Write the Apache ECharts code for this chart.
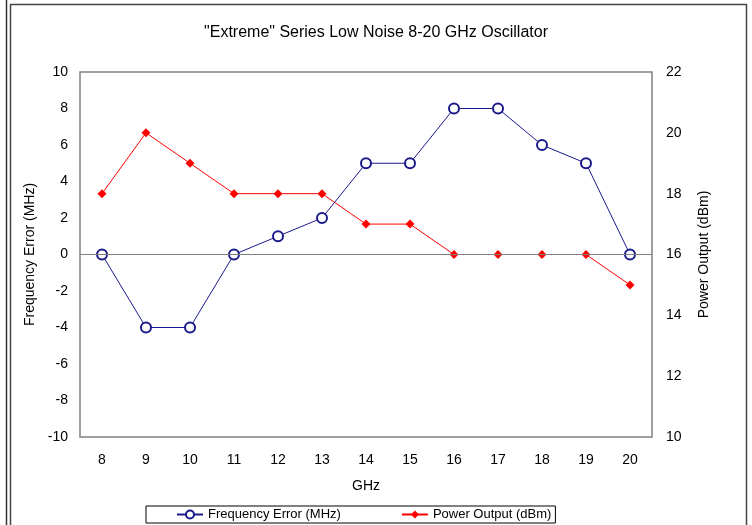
<!DOCTYPE html>
<html>
<head>
<meta charset="utf-8">
<script src="https://cdn.jsdelivr.net/npm/echarts@6/dist/echarts.min.js"></script>
<style>
  html, body { margin: 0; padding: 0; background: #fff; }
  #chart { width: 752px; height: 525px; }
</style>
</head>
<body>
<div id="chart"></div>
<script>
// GHz categories
const ghz = ['8', '9', '10', '11', '12', '13', '14', '15', '16', '17', '18', '19', '20'];
// left axis, MHz
const freqError = [0, -4, -4, 0, 1, 2, 5, 5, 8, 8, 6, 5, 0];
// right axis, dBm
const powerOut = [18, 20, 19, 18, 18, 18, 17, 17, 16, 16, 16, 16, 15];

const font = 'Liberation Sans, Arial, sans-serif';

const chart = echarts.init(document.getElementById('chart'));
chart.setOption({
  animation: false,
  textStyle: { fontFamily: font, color: '#000' },
  title: {
    text: '"Extreme" Series Low Noise 8-20 GHz Oscillator',
    left: 'center',
    top: 20,
    textStyle: { fontFamily: font, fontSize: 16, fontWeight: 'normal', color: '#000' }
  },
  graphic: [
    { type: 'rect', shape: { x: 10.5, y: 4.5, width: 736, height: 540 },
      style: { fill: 'none', stroke: '#444', lineWidth: 1.5 } },
    { type: 'line', shape: { x1: 6.5, y1: 0, x2: 6.5, y2: 525 },
      style: { stroke: '#333', lineWidth: 1.5 } }
  ],
  grid: {
    left: 80, right: 100, top: 72, bottom: 88,
    show: true, borderColor: '#808080', borderWidth: 1.5
  },
  legend: {
    bottom: 2,
    left: 146,
    itemGap: 60,
    itemWidth: 26,
    itemHeight: 10,
    borderColor: '#000',
    borderWidth: 1,
    padding: [2, 4, 2, 30],
    textStyle: { fontFamily: font, fontSize: 13, color: '#000' },
    data: ['Frequency Error (MHz)', 'Power Output (dBm)']
  },
  xAxis: {
    type: 'category',
    data: ghz,
    name: 'GHz',
    nameLocation: 'middle',
    nameGap: 42,
    nameTextStyle: { fontSize: 14, color: '#000' },
    axisLine: { show: false },
    axisTick: { show: false },
    axisLabel: { fontSize: 14, color: '#000', margin: 16 }
  },
  yAxis: [
    {
      type: 'value', min: -10, max: 10, interval: 2,
      name: 'Frequency Error (MHz)',
      nameLocation: 'middle',
      nameGap: 41,
      nameTextStyle: { fontSize: 14, color: '#000' },
      axisLine: { show: false },
      axisTick: { show: false },
      splitLine: { show: false },
      axisLabel: { fontSize: 14, color: '#000', margin: 12 }
    },
    {
      type: 'value', min: 10, max: 22, interval: 2,
      name: 'Power Output (dBm)',
      nameLocation: 'middle',
      nameGap: 45,
      nameTextStyle: { fontSize: 14, color: '#000' },
      axisLine: { show: false },
      axisTick: { show: false },
      splitLine: { show: false },
      axisLabel: { fontSize: 14, color: '#000', margin: 14 }
    }
  ],
  series: [
    {
      name: 'Frequency Error (MHz)',
      type: 'line',
      yAxisIndex: 0,
      data: freqError,
      symbol: 'emptyCircle',
      symbolSize: 10,
      lineStyle: { color: '#1a1a8c', width: 1 },
      itemStyle: { color: '#1a1a8c', borderColor: '#1a1a8c', borderWidth: 1 },
      markLine: {
        silent: true,
        symbol: 'none',
        label: { show: false },
        lineStyle: { color: '#808080', type: 'solid', width: 1.2 },
        data: [{ yAxis: 0 }]
      },
      z: 3
    },
    {
      name: 'Power Output (dBm)',
      type: 'line',
      yAxisIndex: 1,
      data: powerOut,
      symbol: 'diamond',
      symbolSize: 9,
      lineStyle: { color: '#ff0000', width: 1 },
      itemStyle: { color: '#ff0000' },
      z: 2
    }
  ]
});
</script>
</body>
</html>
